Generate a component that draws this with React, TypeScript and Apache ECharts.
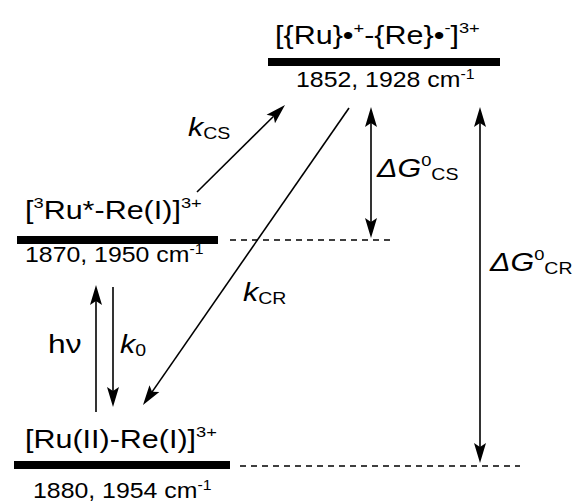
import React, { useEffect, useRef } from 'react';
import * as echarts from 'echarts';

const W = 575;
const H = 502;

// Energy levels (diagram units, y grows downward)
const levelY = [62, 240, 465];
const levelXStart = [268, 17, 14];
const levelXEnd = [500, 218, 230];

// Dashed reference lines
const dashY = [240, 466];
const dashXStart = [230, 240];
const dashXEnd = [395, 520];

// Arrows: from (x1,y1) to (x2,y2); head flags
const arrowX1 = [197, 349, 96, 113, 371, 480];
const arrowY1 = [192, 108, 412, 287, 107, 107];
const arrowX2 = [285, 143, 96, 113, 371, 480];
const arrowY2 = [105, 405, 285, 407, 238, 463];
const arrowHeadStart = [0, 0, 0, 0, 1, 1];
const arrowHeadEnd = [1, 1, 1, 1, 1, 1];

// Labels (rich text)
const labelTexts = [
  '[{Ru}•{sup|+}-{Re}•{sup|-}]{sup|3+}',
  '{num|1852, 1928 cm}{supn|-1}',
  '[{sup|3}Ru*-Re(I)]{sup|3+}',
  '{num|1870, 1950 cm}{supn|-1}',
  '[Ru(II)-Re(I)]{sup|3+}',
  '{num|1880, 1954 cm}{supn|-1}',
  '{hv|hν}',
  '{it|k}{sub|0}',
  '{it|k}{sub|CS}',
  '{it|k}{sub|CR}',
  '{it|ΔG}{sup|0}{sub|CS}',
  '{it|ΔG}{sup|0}{sub|CR}',
];
const labelX = [275, 296, 25, 25, 25, 33, 48, 120, 188, 243, 377, 490];
const labelY = [35, 80, 210, 255, 439, 491, 344, 344, 127, 292, 168, 262];

const FONT = '"Liberation Sans", Arial, Helvetica, sans-serif';
const STRETCH = 1.22;
const NUM_STRETCH = 1.13;

export default function App() {
  const ref = useRef<HTMLDivElement>(null);
  useEffect(() => {
    if (!ref.current) return;
    const chart = echarts.init(ref.current, undefined, { renderer: 'svg' });

    const levelData = levelY.map((y, i) => [levelXStart[i], levelXEnd[i], y]);
    const dashData = dashY.map((y, i) => [dashXStart[i], dashXEnd[i], y]);
    const arrowData = arrowX1.map((x, i) => [x, arrowY1[i], arrowX2[i], arrowY2[i], arrowHeadStart[i], arrowHeadEnd[i]]);

    const rich = {
      sup: { fontSize: 15, lineHeight: 15, verticalAlign: 'top', fontFamily: FONT, fill: '#000' },
      sub: { fontSize: 16, lineHeight: 16, verticalAlign: 'bottom', fontFamily: FONT, fill: '#000' },
      it: { fontSize: 25, lineHeight: 29, fontStyle: 'italic', fontFamily: FONT, fill: '#000' },
      hv: { fontSize: 26, lineHeight: 29, fontFamily: FONT, fill: '#000' },
      num: { fontSize: 22, lineHeight: 26, fontFamily: FONT, fill: '#000' },
      supn: { fontSize: 14, lineHeight: 14, verticalAlign: 'top', fontFamily: FONT, fill: '#000' },
    };

    const graphics = labelTexts.map((t, i) => ({
      type: 'text',
      x: labelX[i],
      y: labelY[i],
      scaleX: t.startsWith('{num|') ? NUM_STRETCH : STRETCH,
      style: {
        text: t,
        rich,
        fontSize: 25,
        lineHeight: 29,
        fontFamily: FONT,
        fill: '#000',
        align: 'left',
        verticalAlign: 'middle',
      },
    }));

    const HL = 20;
    const HW = 12;

    chart.setOption({
      animation: false,
      grid: { left: 0, right: 0, top: 0, bottom: 0 },
      xAxis: { type: 'value', min: 0, max: W, show: false },
      yAxis: { type: 'value', min: 0, max: H, inverse: true, show: false },
      series: [
        {
          type: 'custom',
          coordinateSystem: 'cartesian2d',
          data: levelData,
          renderItem: (params: any, api: any) => {
            const p1 = api.coord([api.value(0), api.value(2)]);
            const p2 = api.coord([api.value(1), api.value(2)]);
            return { type: 'rect', shape: { x: p1[0], y: p1[1] - 4, width: p2[0] - p1[0], height: 8 }, style: { fill: '#000' } };
          },
        },
        {
          type: 'custom',
          coordinateSystem: 'cartesian2d',
          data: dashData,
          renderItem: (params: any, api: any) => {
            const p1 = api.coord([api.value(0), api.value(2)]);
            const p2 = api.coord([api.value(1), api.value(2)]);
            return {
              type: 'line',
              shape: { x1: p1[0], y1: p1[1], x2: p2[0], y2: p2[1] },
              style: { stroke: '#000', lineWidth: 1.3, lineDash: [6, 5] },
            };
          },
        },
        {
          type: 'custom',
          coordinateSystem: 'cartesian2d',
          data: arrowData,
          renderItem: (params: any, api: any) => {
            const a = api.coord([api.value(0), api.value(1)]);
            const b = api.coord([api.value(2), api.value(3)]);
            const hs = api.value(4);
            const he = api.value(5);
            const dx = b[0] - a[0];
            const dy = b[1] - a[1];
            const len = Math.sqrt(dx * dx + dy * dy);
            const ux = dx / len;
            const uy = dy / len;
            const px = -uy;
            const py = ux;
            const children: any[] = [];
            const head = (tip: number[], sx: number, sy: number) => {
              const bx = tip[0] - sx * HL;
              const by = tip[1] - sy * HL;
              const nx = tip[0] - sx * HL * 0.8;
              const ny = tip[1] - sy * HL * 0.8;
              return {
                type: 'polygon',
                shape: {
                  points: [
                    [tip[0], tip[1]],
                    [bx + px * HW / 2, by + py * HW / 2],
                    [nx, ny],
                    [bx - px * HW / 2, by - py * HW / 2],
                  ],
                },
                style: { fill: '#000' },
              };
            };
            let s = a;
            let e = b;
            if (hs) {
              children.push(head(a, -ux, -uy));
              s = [a[0] + ux * HL * 0.8, a[1] + uy * HL * 0.8];
            }
            if (he) {
              children.push(head(b, ux, uy));
              e = [b[0] - ux * HL * 0.8, b[1] - uy * HL * 0.8];
            }
            children.push({
              type: 'line',
              shape: { x1: s[0], y1: s[1], x2: e[0], y2: e[1] },
              style: { stroke: '#000', lineWidth: 1.6 },
            });
            return { type: 'group', children };
          },
        },
      ],
      graphic: graphics,
    });
    return () => chart.dispose();
  }, []);
  return <div ref={ref} style={{ position: 'absolute', left: 0, top: 0, width: W, height: H, background: '#fff' }} />;
}
